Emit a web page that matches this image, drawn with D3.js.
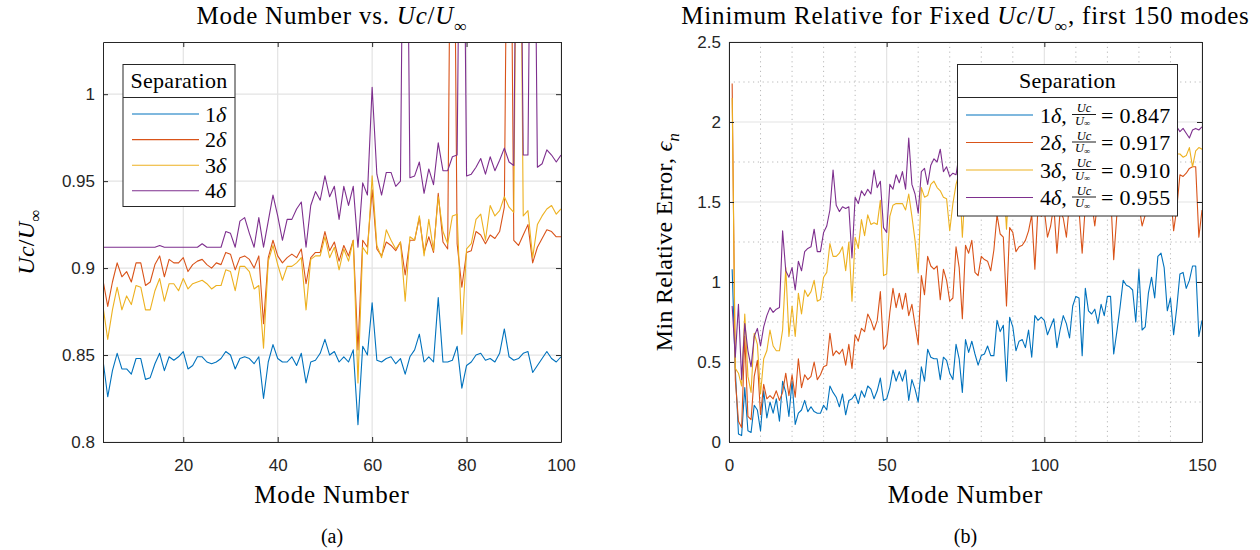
<!DOCTYPE html>
<html>
<head>
<meta charset="utf-8">
<script src="https://cdn.jsdelivr.net/npm/d3@7"></script>
<style>
  body { margin: 0; background: #fff; }
  svg { display: block; }
  .tick text { font-family: "Liberation Sans", Arial, sans-serif; font-size: 17px; fill: #262626; }
  .serif { font-family: "Liberation Serif", "Times New Roman", serif; fill: #000; }
</style>
</head>
<body>
<div id="chart"></div>
<script>
// ---- data: (a) Uc/Uinf per mode, modes 3..100 (values > 1.03 run off the top of the axes)
const leftStartMode = 3;
const leftU1 = [0.847,0.826,0.841,0.851,0.842,0.842,0.839,0.848,0.848,0.836,0.837,0.845,0.851,0.841,0.849,0.847,0.849,0.852,0.842,0.844,0.849,0.849,0.846,0.845,0.846,0.848,0.852,0.850,0.842,0.848,0.849,0.848,0.845,0.849,
  0.825,0.846,0.856,0.848,0.846,0.846,0.849,0.844,0.851,0.834,0.846,0.847,0.851,0.859,0.850,0.852,0.846,0.849,0.846,0.853,0.810,0.855,0.850,0.880,0.847,0.846,0.848,0.849,0.845,0.848,
  0.839,0.849,0.853,0.862,0.846,0.849,0.846,0.883,0.846,0.846,0.847,0.855,0.831,0.844,0.846,0.850,0.851,0.847,0.848,0.846,0.851,0.865,0.849,0.847,0.848,0.851,0.852,0.840,0.844,0.848,0.852,0.848,0.846,0.849];
const leftU2 = [0.893,0.878,0.892,0.903,0.895,0.898,0.892,0.903,0.903,0.890,0.892,0.902,0.907,0.895,0.905,0.903,0.903,0.906,0.898,0.902,0.904,0.905,0.902,0.900,0.903,0.902,0.909,0.908,0.899,0.906,0.907,0.905,0.900,0.907,
  0.868,0.906,0.916,0.907,0.903,0.906,0.908,0.906,0.911,0.891,0.906,0.909,0.909,0.921,0.910,0.915,0.904,0.913,0.907,0.916,0.853,0.916,0.912,0.945,0.911,0.907,0.915,0.913,0.910,0.915,
  0.896,0.916,0.916,0.929,0.909,0.918,0.909,0.943,0.915,0.911,1.25,0.914,0.889,0.909,0.910,0.921,0.919,0.914,0.919,0.917,0.921,0.935,1.25,0.916,0.913,0.919,0.925,0.903,0.912,0.917,0.922,0.921,0.918,0.918];
const leftU3 = [0.878,0.859,0.876,0.889,0.876,0.884,0.879,0.890,0.889,0.876,0.876,0.887,0.894,0.881,0.891,0.891,0.887,0.894,0.888,0.891,0.892,0.893,0.891,0.888,0.890,0.890,0.899,0.898,0.887,0.901,0.901,0.898,0.888,0.890,
  0.854,0.904,0.913,0.902,0.893,0.901,0.901,0.903,0.906,0.876,0.905,0.907,0.907,0.918,0.906,0.912,0.899,0.911,0.904,0.916,0.834,0.912,0.908,0.953,0.913,0.906,0.922,0.916,0.911,0.915,
  0.881,0.918,0.916,0.930,0.907,0.928,0.910,0.941,0.921,0.914,0.930,0.931,0.862,0.911,0.914,0.928,0.931,0.916,0.936,0.930,0.933,0.941,0.935,0.932,1.25,0.930,0.933,0.906,0.925,0.930,0.934,0.936,0.931,0.934];
const leftU4 = [0.912,0.912,0.912,0.912,0.912,0.912,0.912,0.912,0.912,0.912,0.912,0.912,0.913,0.912,0.912,0.912,0.912,0.912,0.912,0.912,0.912,0.914,0.912,0.912,0.912,0.912,0.921,0.920,0.912,0.927,0.929,0.920,0.912,0.929,
  0.912,0.927,0.942,0.930,0.916,0.928,0.928,0.934,0.938,0.912,0.936,0.944,0.939,0.953,0.941,0.947,0.928,0.947,0.936,0.947,0.912,0.949,0.942,1.004,0.954,0.942,0.955,0.955,0.947,0.950,
  1.25,0.952,0.953,0.961,0.943,0.957,0.948,0.972,0.956,0.956,0.964,0.965,1.25,0.953,0.954,0.958,0.963,0.954,0.964,0.956,0.962,0.969,0.961,0.959,1.25,0.965,0.965,1.25,0.958,0.960,0.968,0.965,0.961,0.965];

// ---- data: (b) min relative error per mode, modes 1..150
const rightE1 = [1.08,0.45,0.05,0.04,0.34,0.07,0.06,0.23,0.20,0.07, 0.32,0.15,0.25,0.18,0.27,0.13,0.38,0.31,0.16,0.38,
  0.11,0.18,0.20,0.26,0.19,0.22,0.19,0.18,0.18,0.23, 0.20,0.35,0.31,0.28,0.22,0.30,0.17,0.26,0.27,0.30,
  0.24,0.32,0.28,0.35,0.33,0.27,0.32,0.40,0.26,0.27, 0.34,0.45,0.38,0.44,0.38,0.45,0.26,0.39,0.33,0.25,
  0.47,0.38,0.58,0.53,0.52,0.52,0.39,0.53,0.51,0.43, 0.39,0.61,0.52,0.31,0.64,0.56,0.63,0.55,0.48,0.54,
  0.55,0.60,0.54,0.54,0.76,0.69,0.73,0.38,0.78,0.72, 0.57,0.63,0.64,0.59,0.70,0.53,0.79,0.76,0.78,0.76,
  0.67,0.72,0.77,0.59,0.70,0.79,0.74,0.65,0.85,0.91, 0.90,0.54,0.96,0.82,0.80,0.83,0.74,0.86,0.79,0.91,
  0.91,0.55,0.69,0.84,1.01,0.98,0.97,0.95,0.75,1.08, 0.70,0.72,0.93,1.03,0.90,1.16,1.18,1.09,0.82,0.90,
  0.67,0.84,1.05,1.06,0.96,1.01,1.10,1.10,0.66,0.76];
const rightE2 = [2.24,0.39,0.13,0.09,0.66,0.16,0.14,0.41,0.51,0.17, 0.36,0.27,0.29,0.27,0.32,0.26,0.31,0.43,0.29,0.42,
  0.28,0.52,0.34,0.42,0.39,0.41,0.50,0.39,0.42,0.47, 0.48,0.68,0.54,0.57,0.55,0.58,0.48,0.61,0.46,0.67,
  0.63,0.71,0.69,0.80,0.76,0.70,0.76,0.94,0.58,0.61, 0.81,0.96,0.84,0.93,0.83,0.93,0.79,0.86,0.73,0.61,
  1.04,0.92,1.16,1.10,1.08,1.10,0.89,1.08,1.01,0.88, 0.90,1.22,1.09,0.77,1.23,1.18,1.26,1.06,1.04,1.16,
  1.14,1.13,1.07,1.20,1.42,1.30,1.28,0.85,1.34,1.31, 1.19,1.22,1.23,1.26,1.32,1.42,1.08,1.47,1.41,1.45,
  1.28,1.35,1.48,1.18,1.44,1.40,1.28,1.50,1.46,1.52, 1.45,1.18,1.48,1.55,1.50,1.35,1.52,1.58,1.50,1.47,
  1.56,1.14,1.42,1.50,1.55,1.46,1.58,1.52,1.60,1.48, 1.35,1.42,1.55,1.62,1.50,1.58,1.63,1.55,1.48,1.58,
  1.32,1.46,1.67,1.66,1.68,1.71,1.72,1.72,1.28,1.45];
const rightE3 = [2.15,0.46,0.43,0.35,0.80,0.41,0.31,0.68,0.61,0.30, 0.52,0.57,0.70,0.60,0.57,0.57,0.70,1.09,0.66,0.85,
  0.66,0.93,0.80,0.95,0.91,0.94,1.01,0.88,0.89,1.03, 1.06,1.24,1.16,1.16,1.18,1.22,1.07,1.25,0.88,1.28,
  1.21,1.39,1.29,1.42,1.36,1.37,1.36,1.51,1.04,1.05, 1.41,1.48,1.49,1.49,1.49,1.45,1.55,1.41,1.26,1.06,
  1.59,1.53,1.54,1.61,1.63,1.59,1.57,1.53,1.52,1.32, 1.49,1.61,1.68,1.28,1.62,1.66,1.70,1.64,1.58,1.67,
  1.72,1.65,1.60,1.69,1.74,1.70,1.66,1.33,1.71,1.76, 1.68,1.73,1.78,1.70,1.66,1.75,1.72,1.80,1.74,1.69,
  1.77,1.71,1.76,1.68,1.79,1.73,1.70,1.81,1.75,1.78, 1.72,1.66,1.77,1.80,1.74,1.71,1.79,1.82,1.76,1.73,
  1.80,1.68,1.75,1.81,1.77,1.72,1.83,1.78,1.74,1.80, 1.76,1.70,1.79,1.84,1.78,1.75,1.82,1.79,1.73,1.81,
  1.77,1.80,1.80,1.78,1.79,1.84,1.72,1.82,1.84,1.83];
const rightE4 = [0.85,0.53,0.86,0.39,0.74,0.57,0.47,0.66,0.71,0.60, 0.72,0.79,0.84,0.81,0.83,0.84,1.32,1.07,1.03,1.09,
  0.95,1.13,1.07,1.19,1.21,1.22,1.33,1.19,1.19,1.31, 1.35,1.45,1.70,1.48,1.44,1.47,1.46,1.47,1.15,1.53,
  1.49,1.57,1.54,1.58,1.55,1.70,1.59,1.63,1.34,1.31, 1.61,1.58,1.67,1.62,1.69,1.58,1.90,1.61,1.55,1.43,
  1.69,1.71,1.61,1.73,1.77,1.75,1.83,1.69,1.72,1.66, 1.68,1.67,1.80,1.74,1.82,1.86,1.79,1.84,1.88,1.81,
  1.85,1.90,1.83,1.87,1.92,1.86,1.84,1.78,1.89,1.93, 1.87,1.91,1.95,1.88,1.86,1.92,1.90,1.96,1.91,1.89,
  1.94,1.88,1.93,1.90,1.97,1.92,1.89,1.95,1.93,1.96, 1.90,1.87,1.94,1.98,1.92,1.89,1.96,1.99,1.93,1.91,
  1.97,1.90,1.94,1.99,1.95,1.92,2.00,1.96,1.93,1.98, 1.94,1.91,1.97,2.01,1.95,1.93,1.99,1.96,1.92,1.98,
  1.95,1.97,1.94,1.96,1.93,1.90,1.95,1.96,1.95,1.97];

const separations = ["1", "2", "3", "4"];          // in units of delta
const bestUc = ["0.847", "0.917", "0.910", "0.955"];
const leftXTicks = [20, 40, 60, 80, 100];
const leftYTicks = [0.8, 0.85, 0.9, 0.95, 1];
const rightXTicks = [0, 50, 100, 150];
const rightYTicks = [0, 0.5, 1, 1.5, 2, 2.5];
const rightXMinor = [10, 20, 30, 40, 60, 70, 80, 90, 110, 120, 130, 140];
const rightYMinor = [0.25, 0.75, 1.25, 1.75, 2.25];

const colors = ["#0072BD", "#D95319", "#EDB120", "#7E2F8E"];

const svg = d3.select("#chart").append("svg")
    .attr("width", 1260)
    .attr("height", 550);

// write text made of plain / italic / subscript pieces
function mathText(sel, parts, size, spacing, subShift = 0.3) {
    const t = sel.append("text").attr("class", "serif").style("font-size", size + "px");
    if (spacing) t.style("letter-spacing", spacing + "px");
    let shifted = 0;
    parts.forEach(p => {
        const s = t.append("tspan").text(p.t);
        if (p.i) s.style("font-style", "italic");
        if (p.sub) {
            s.attr("dy", subShift * size).style("font-size", (size * 0.7) + "px");
            shifted = subShift * size;
        } else if (shifted) {
            s.attr("dy", -shifted);
            shifted = 0;
        }
    });
    return t;
}
const ucOverUinf = [{t: "Uc", i: true}, {t: "/"}, {t: "U", i: true}, {t: "\u221E", sub: true}];

function fmt(d) { return String(+d.toFixed(2)); }

function drawPanel(opt) {
    const {x, y, xt, yt, id} = opt;
    const [x0, x1] = x.range();
    const [y1, y0] = y.range();
    const g = svg.append("g");

    g.append("clipPath").attr("id", id)
        .append("rect").attr("x", x0).attr("y", y0).attr("width", x1 - x0).attr("height", y1 - y0);

    // minor (dotted) grid
    if (opt.xMinor) {
        g.append("g").selectAll("line").data(opt.xMinor).join("line")
            .attr("x1", d => x(d)).attr("x2", d => x(d)).attr("y1", y0).attr("y2", y1)
            .attr("stroke", "#b8b8b8").attr("stroke-dasharray", "1.2,3.6");
        g.append("g").selectAll("line").data(opt.yMinor).join("line")
            .attr("y1", d => y(d)).attr("y2", d => y(d)).attr("x1", x0).attr("x2", x1)
            .attr("stroke", "#b8b8b8").attr("stroke-dasharray", "1.2,3.6");
    }
    // major grid
    g.append("g").selectAll("line").data(xt).join("line")
        .attr("x1", d => x(d)).attr("x2", d => x(d)).attr("y1", y0).attr("y2", y1)
        .attr("stroke", "#e3e3e3").attr("stroke-width", 1.2);
    g.append("g").selectAll("line").data(yt).join("line")
        .attr("y1", d => y(d)).attr("y2", d => y(d)).attr("x1", x0).attr("x2", x1)
        .attr("stroke", "#e3e3e3").attr("stroke-width", 1.2);

    // series
    const line = d3.line().x(d => x(d[0])).y(d => y(d[1]));
    g.append("g").attr("clip-path", `url(#${id})`)
        .selectAll("path").data(opt.series).join("path")
        .attr("d", d => line(d.values.map((v, i) => [opt.start + i, v])))
        .attr("fill", "none")
        .attr("stroke", (d, i) => colors[i])
        .attr("stroke-width", 1.1)
        .attr("stroke-linejoin", "round");

    // axes (ticks inward, box on)
    const style = a => {
        a.selectAll(".domain").attr("stroke", "#262626");
        a.selectAll(".tick line").attr("stroke", "#262626");
    };
    g.append("g").attr("transform", `translate(0,${y1})`)
        .call(d3.axisBottom(x).tickValues(xt).tickSizeInner(-5).tickSizeOuter(0).tickPadding(17).tickFormat(fmt))
        .call(style).call(a => a.selectAll("text").attr("font-family", null).attr("font-size", null));
    g.append("g").attr("transform", `translate(0,${y0})`)
        .call(d3.axisTop(x).tickValues(xt).tickSizeInner(-5).tickSizeOuter(0).tickFormat(""))
        .call(style);
    g.append("g").attr("transform", `translate(${x0},0)`)
        .call(d3.axisLeft(y).tickValues(yt).tickSizeInner(-5).tickSizeOuter(0).tickPadding(8).tickFormat(fmt))
        .call(style).call(a => a.selectAll("text").attr("font-family", null).attr("font-size", null));
    g.append("g").attr("transform", `translate(${x1},0)`)
        .call(d3.axisRight(y).tickValues(yt).tickSizeInner(-5).tickSizeOuter(0).tickFormat(""))
        .call(style);
    g.selectAll(".tick text").attr("fill", "#262626");

    // title, axis labels, caption
    const cx = (x0 + x1) / 2;
    mathText(svg, opt.title, 25, 0.8).attr("x", cx).attr("y", 24).attr("text-anchor", "middle");
    mathText(svg, [{t: "Mode Number"}], 25, 0.8).attr("x", cx).attr("y", 503).attr("text-anchor", "middle");
    mathText(svg, opt.ylabel, 24, 0.3)
        .attr("text-anchor", "middle")
        .attr("transform", `translate(${opt.ylabelX},${(y0 + y1) / 2}) rotate(-90)`);
    mathText(svg, [{t: opt.caption}], 20).attr("x", cx).attr("y", 543).attr("text-anchor", "middle");
    return g;
}

// ---------- panel (a)
const xL = d3.scaleLinear().domain([3, 100]).range([103, 561]);
const yL = d3.scaleLinear().domain([0.8, 1.03]).range([442, 42]);
drawPanel({
    id: "clipL", x: xL, y: yL, xt: leftXTicks, yt: leftYTicks, start: leftStartMode,
    series: [leftU1, leftU2, leftU3, leftU4].map(v => ({values: v})),
    title: [{t: "Mode Number vs. "}].concat(ucOverUinf),
    ylabel: ucOverUinf, ylabelX: 34, caption: "(a)"
});

// ---------- panel (b)
const xR = d3.scaleLinear().domain([0, 150]).range([729, 1202]);
const yR = d3.scaleLinear().domain([0, 2.5]).range([442, 42]);
drawPanel({
    id: "clipR", x: xR, y: yR, xt: rightXTicks, yt: rightYTicks, start: 1,
    xMinor: rightXMinor, yMinor: rightYMinor,
    series: [rightE1, rightE2, rightE3, rightE4].map(v => ({values: v})),
    title: [{t: "Minimum Relative for Fixed "}].concat(ucOverUinf, [{t: ", first 150 modes"}]),
    ylabel: [{t: "Min Relative Error, "}, {t: "\u03F5", i: true}, {t: "n", i: true, sub: true}],
    ylabelX: 672, caption: "(b)"
});

// ---------- legend (a)
const legL = svg.append("g");
legL.append("rect").attr("x", 123).attr("y", 64.5).attr("width", 112).attr("height", 142)
    .attr("fill", "#fff").attr("stroke", "#262626");
legL.append("line").attr("x1", 123).attr("x2", 235).attr("y1", 97.5).attr("y2", 97.5).attr("stroke", "#262626");
mathText(legL, [{t: "Separation"}], 22, 0.3).attr("x", 179).attr("y", 88).attr("text-anchor", "middle");
separations.forEach((s, i) => {
    const ry = 114 + i * 25.6;
    legL.append("line").attr("x1", 132).attr("x2", 199).attr("y1", ry).attr("y2", ry)
        .attr("stroke", colors[i]).attr("stroke-width", 1.1);
    mathText(legL, [{t: s}, {t: "\u03B4", i: true}], 22).attr("x", 205).attr("y", ry + 7.5);
});

// ---------- legend (b)
const legR = svg.append("g");
legR.append("rect").attr("x", 957.5).attr("y", 64.5).attr("width", 220).attr("height", 151.5)
    .attr("fill", "#fff").attr("stroke", "#262626");
legR.append("line").attr("x1", 957.5).attr("x2", 1177.5).attr("y1", 97.5).attr("y2", 97.5).attr("stroke", "#262626");
mathText(legR, [{t: "Separation"}], 22, 0.3).attr("x", 1067.5).attr("y", 88).attr("text-anchor", "middle");
separations.forEach((s, i) => {
    const ry = 115 + i * 27.5;
    legR.append("line").attr("x1", 966).attr("x2", 1033).attr("y1", ry).attr("y2", ry)
        .attr("stroke", colors[i]).attr("stroke-width", 1.1);
    mathText(legR, [{t: s}, {t: "\u03B4", i: true}, {t: ","}], 22).attr("x", 1040).attr("y", ry + 7.5);
    // small fraction Uc / U_inf
    legR.append("line").attr("x1", 1072).attr("x2", 1096).attr("y1", ry - 0.5).attr("y2", ry - 0.5)
        .attr("stroke", "#000").attr("stroke-width", 0.9);
    mathText(legR, [{t: "Uc", i: true}], 12.5).attr("x", 1084).attr("y", ry - 3).attr("text-anchor", "middle");
    mathText(legR, [{t: "U", i: true}, {t: "\u221E", sub: true}], 12.5, 0, 0.15).attr("x", 1075).attr("y", ry + 9.5);
    mathText(legR, [{t: "= " + bestUc[i]}], 22, 0.3).attr("x", 1101).attr("y", ry + 7.5);
});
</script>
</body>
</html>
